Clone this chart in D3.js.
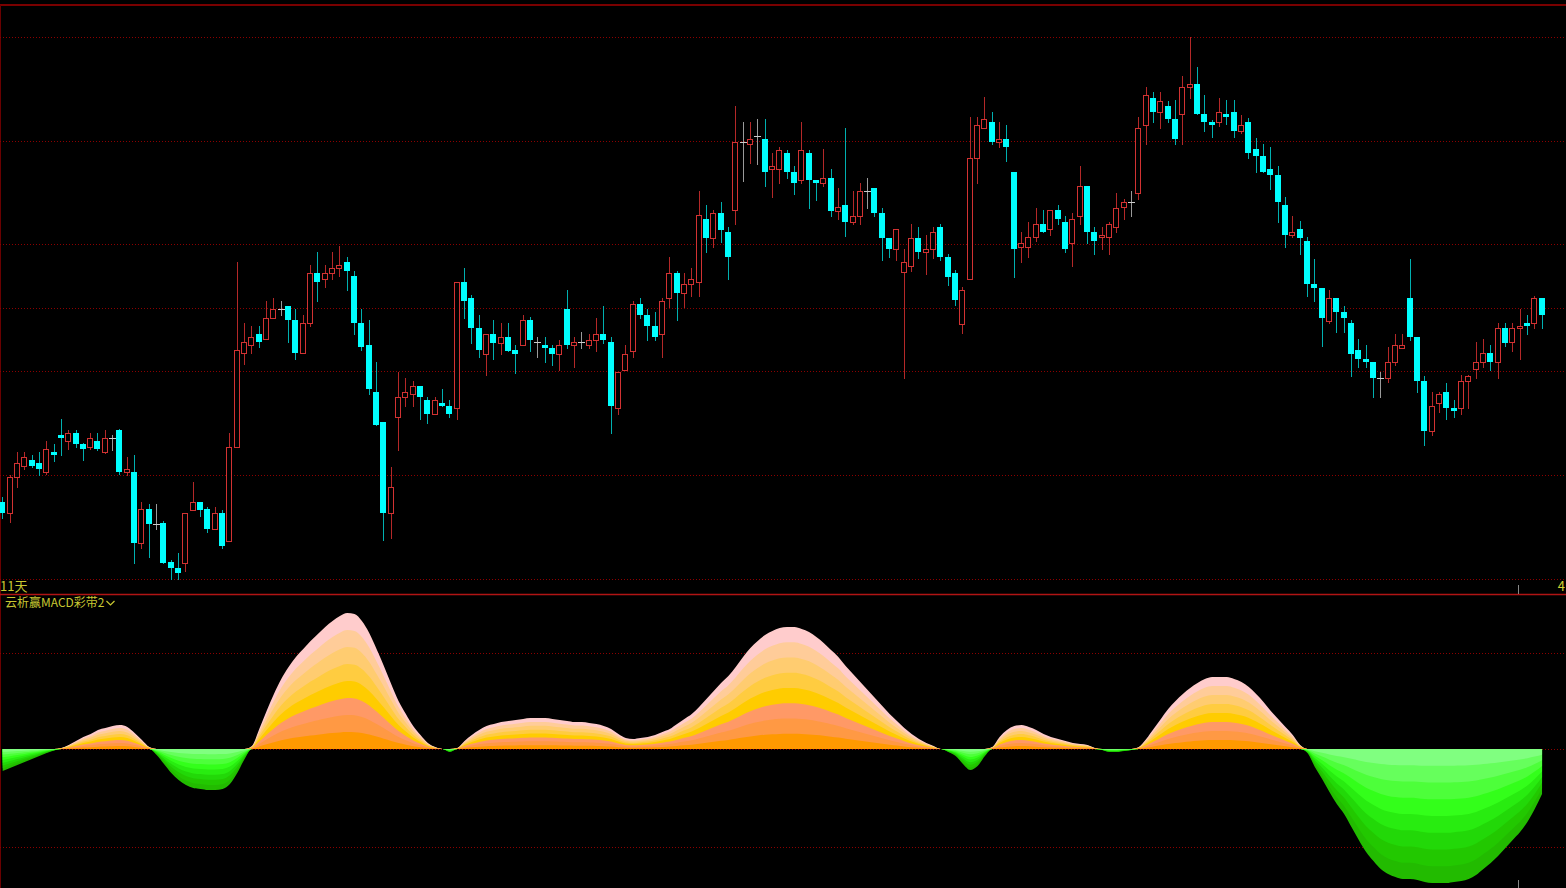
<!DOCTYPE html>
<html>
<head>
<meta charset="utf-8">
<script src="https://cdn.jsdelivr.net/npm/d3@7"></script>
<style>
  html, body { margin: 0; padding: 0; background: #000; overflow: hidden; }
  svg { display: block; }
</style>
</head>
<body>
<div id="chart"></div>
<script>
// daily bars, oldest first
var opens = [14.98,14.87,15.23,15.34,15.40,15.37,15.28,15.48,15.65,15.59,15.67,15.56,15.53,15.59,15.48,15.62,15.70,15.28,15.28,14.57,
  14.91,14.76,14.77,14.38,14.32,14.37,14.90,14.98,14.91,14.71,14.87,14.59,15.53,16.47,16.55,16.66,16.61,16.82,16.91,16.94,
  16.80,16.47,16.77,17.27,17.21,17.27,17.32,17.38,17.24,16.77,16.55,16.08,15.78,14.87,15.83,16.03,16.06,16.14,16.00,15.86,
  15.97,15.94,15.92,17.18,17.02,16.72,16.46,16.66,16.57,16.63,16.50,16.55,16.80,16.58,16.55,16.52,16.46,16.91,16.55,16.58,
  16.55,16.60,16.66,16.58,15.92,16.30,16.49,16.96,16.85,16.74,16.66,17.02,17.27,17.07,17.16,17.18,17.81,17.62,17.87,17.68,
  17.90,18.58,18.56,18.64,18.61,18.31,18.31,18.47,18.28,18.20,18.47,18.20,18.17,18.22,17.89,17.95,17.78,17.84,18.09,18.12,
  17.87,17.62,17.51,17.28,17.34,17.62,17.48,17.51,17.73,17.43,17.27,16.76,17.21,18.42,18.72,18.78,18.58,18.61,18.28,17.53,
  17.53,17.63,17.76,17.71,17.90,17.78,17.57,17.84,18.14,17.68,17.63,17.63,17.73,17.93,17.98,18.07,18.75,19.02,18.88,18.94,
  18.81,18.86,19.13,19.16,18.86,18.78,18.78,18.86,18.88,18.69,18.78,18.51,18.44,18.31,18.25,17.95,17.65,17.71,17.59,17.16,
  17.12,16.79,17.02,16.88,16.77,16.50,16.41,16.38,16.22,16.22,16.38,16.52,17.02,16.63,16.19,15.69,15.97,16.08,15.92,15.92,
  16.19,16.31,16.38,16.47,16.38,16.72,16.58,16.72,16.77,16.77,17.02];

var closes = [14.87,15.23,15.37,15.43,15.34,15.31,15.51,15.45,15.62,15.67,15.56,15.51,15.62,15.51,15.62,15.62,15.28,15.31,14.57,14.91,
  14.76,14.76,14.37,14.32,14.27,14.87,14.98,14.90,14.71,14.87,14.54,15.53,16.50,16.58,16.63,16.58,16.82,16.91,16.91,16.80,
  16.47,16.77,17.27,17.18,17.27,17.32,17.35,17.29,16.77,16.53,16.11,15.75,14.87,15.13,16.03,16.08,16.14,16.03,15.86,16.00,
  15.94,15.86,17.18,16.99,16.72,16.50,16.66,16.57,16.63,16.49,16.46,16.80,16.60,16.58,16.52,16.46,16.55,16.55,16.58,16.58,
  16.60,16.66,16.60,15.94,16.28,16.46,16.96,16.85,16.74,16.63,16.99,17.27,17.07,17.16,17.21,17.85,17.62,17.87,17.70,17.43,
  18.58,18.58,18.61,18.64,18.28,18.34,18.50,18.28,18.17,18.50,18.20,18.17,18.22,17.89,17.93,17.78,17.84,18.09,18.09,17.87,
  17.62,17.51,17.71,17.38,17.62,17.48,17.51,17.68,17.43,17.23,17.00,17.10,18.42,18.75,18.81,18.58,18.61,18.53,17.51,17.57,
  17.63,17.76,17.68,17.90,17.81,17.51,17.81,18.14,17.68,17.59,17.65,17.76,17.92,17.98,17.98,18.72,19.05,18.88,18.99,18.81,
  18.61,19.13,19.16,18.86,18.78,18.75,18.88,18.83,18.69,18.75,18.47,18.44,18.28,18.25,17.98,17.65,17.68,17.62,17.16,17.12,
  16.82,17.02,16.88,16.82,16.46,16.41,16.38,16.22,16.22,16.38,16.55,16.55,16.63,16.19,15.69,15.94,16.06,15.92,15.89,16.19,
  16.24,16.38,16.47,16.38,16.72,16.57,16.72,16.74,16.74,17.02,16.85];

var highs = [15.03,15.25,15.48,15.48,15.45,15.48,15.59,15.56,15.81,15.70,15.70,15.57,15.67,15.67,15.70,15.65,15.71,15.43,15.45,14.98,
  14.96,14.96,14.79,14.40,14.47,14.87,15.18,14.98,14.93,14.93,14.90,15.67,17.38,16.77,16.74,16.74,16.99,17.02,16.99,16.94,
  16.91,16.85,17.35,17.48,17.35,17.48,17.54,17.43,17.29,16.91,16.80,16.38,15.78,15.33,16.28,16.22,16.19,16.14,16.03,16.03,
  16.11,16.00,17.18,17.32,17.05,16.85,16.66,16.80,16.77,16.77,16.55,16.85,16.83,16.63,16.63,16.55,16.60,17.10,16.63,16.68,
  16.66,16.82,16.94,16.63,16.28,16.55,16.99,17.02,16.91,16.88,17.02,17.43,17.29,17.27,17.32,18.09,17.95,17.90,17.98,17.73,
  18.94,18.78,18.78,18.81,18.81,18.47,18.53,18.50,18.34,18.78,18.50,18.20,18.51,18.31,18.12,18.72,18.09,18.17,18.22,18.12,
  17.92,17.62,17.71,17.51,17.76,17.73,17.65,17.73,17.76,17.46,17.30,17.13,18.83,18.83,19.03,18.88,18.78,18.75,18.28,17.68,
  17.78,17.92,17.90,17.90,17.95,17.84,17.87,18.34,18.14,17.73,17.73,17.78,18.07,18.01,18.09,18.83,19.13,19.08,19.08,18.99,
  19.00,19.24,19.63,19.33,19.05,18.80,19.02,19.00,19.00,18.85,18.82,18.62,18.56,18.53,18.34,18.03,17.84,17.79,17.63,17.41,
  17.12,17.10,17.02,16.94,16.80,16.61,16.55,16.38,16.28,16.53,16.66,16.66,17.41,16.63,16.24,16.08,16.08,16.17,16.00,16.25,
  16.25,16.58,16.61,16.55,16.77,16.77,16.77,16.91,16.85,17.04,17.02];

var lows = [14.82,14.78,15.13,15.31,15.33,15.25,15.26,15.39,15.45,15.51,15.53,15.40,15.51,15.50,15.47,15.50,15.26,15.25,14.37,14.52,
  14.43,14.71,14.37,14.21,14.21,14.29,14.90,14.84,14.68,14.71,14.52,14.59,15.53,16.36,16.47,16.53,16.61,16.82,16.85,16.58,
  16.41,16.47,16.74,16.99,17.13,17.21,17.24,17.10,16.66,16.50,16.06,15.75,14.60,14.62,15.50,15.94,15.94,15.81,15.77,15.86,
  15.94,15.83,15.81,16.82,16.57,16.43,16.25,16.41,16.46,16.49,16.27,16.55,16.49,16.43,16.38,16.35,16.30,16.52,16.33,16.52,
  16.52,16.49,16.57,15.67,15.86,16.30,16.43,16.82,16.60,16.60,16.43,16.93,16.80,16.93,17.04,17.04,17.48,17.53,17.58,17.21,
  17.76,18.19,18.37,18.36,18.14,18.03,18.17,18.22,18.06,18.17,17.92,18.00,18.14,17.84,17.81,17.64,17.76,17.76,17.92,17.84,
  17.40,17.43,17.40,16.22,17.29,17.42,17.26,17.42,17.40,17.15,16.95,16.67,17.21,18.17,18.72,18.56,18.53,18.39,17.23,17.38,
  17.43,17.59,17.68,17.65,17.76,17.48,17.34,17.76,17.57,17.46,17.51,17.46,17.68,17.81,17.84,18.01,18.56,18.78,18.72,18.78,
  18.56,18.56,19.02,18.86,18.69,18.63,18.74,18.76,18.63,18.67,18.42,18.28,18.28,18.11,17.78,17.53,17.63,17.46,17.04,16.99,
  16.54,16.77,16.68,16.68,16.24,16.33,16.33,16.03,16.03,16.18,16.35,16.52,16.60,16.08,15.55,15.65,15.88,15.81,15.83,15.86,
  15.92,16.22,16.33,16.30,16.22,16.54,16.49,16.41,16.66,16.72,16.72];

// outer value of the MACD colour band, one per bar
var macdValues = [-0.022,-0.019,-0.016,-0.013,-0.010,-0.007,-0.004,-0.0015,0.001,0.004,0.008,0.012,0.015,0.019,0.021,0.023,0.024,0.022,0.016,0.009,
  0.002,-0.006,-0.015,-0.024,-0.031,-0.036,-0.039,-0.040,-0.041,-0.041,-0.040,-0.035,-0.024,-0.010,0.003,0.020,0.038,0.055,0.070,0.082,
  0.092,0.100,0.108,0.115,0.122,0.128,0.133,0.136,0.135,0.128,0.116,0.100,0.083,0.065,0.048,0.035,0.023,0.014,0.006,0.002,
  0.000,-0.003,0.001,0.008,0.014,0.019,0.023,0.025,0.027,0.028,0.029,0.030,0.031,0.031,0.031,0.030,0.029,0.028,0.027,0.027,
  0.026,0.025,0.023,0.020,0.015,0.011,0.010,0.011,0.012,0.014,0.017,0.020,0.025,0.030,0.035,0.042,0.050,0.058,0.066,0.073,
  0.082,0.092,0.101,0.108,0.114,0.118,0.121,0.122,0.122,0.120,0.117,0.112,0.106,0.099,0.092,0.083,0.075,0.067,0.059,0.051,
  0.043,0.035,0.028,0.021,0.015,0.010,0.006,0.003,0.000,-0.003,-0.007,-0.015,-0.021,-0.017,-0.007,0.002,0.012,0.019,0.023,0.024,
  0.022,0.019,0.015,0.012,0.010,0.008,0.006,0.005,0.004,0.001,-0.001,-0.003,-0.003,-0.002,-0.001,0.002,0.010,0.020,0.030,0.040,
  0.048,0.055,0.061,0.066,0.070,0.072,0.072,0.072,0.070,0.067,0.062,0.055,0.047,0.038,0.030,0.022,0.014,0.004,-0.004,-0.018,
  -0.030,-0.043,-0.055,-0.065,-0.078,-0.091,-0.103,-0.112,-0.120,-0.125,-0.128,-0.130,-0.130,-0.131,-0.133,-0.134,-0.134,-0.134,-0.133,-0.132,
  -0.130,-0.126,-0.120,-0.114,-0.107,-0.099,-0.091,-0.083,-0.073,-0.060,-0.045];

var priceGrid = [19.63, 18.59, 17.56, 16.92, 16.29, 15.25, 14.21];
var macdGrid = [0.096, 0, -0.098];

// band colours, outermost layer first
var upColors = ["#ffcccc", "#ffcc99", "#ffcc70", "#ffcc40", "#ffcc00", "#ff9966", "#ff9944", "#ff9900"];
var downColors = ["#22bb00", "#22c800", "#22d808", "#28ec10", "#33ff1a", "#4dff3a", "#66ff5c", "#80ff80"];

var periodLabel = "11天";
var indicatorName = "云析赢MACD彩带2";
var rightLabel = "4";

var width = 1566, height = 888;

var svg = d3.select("#chart")
  .append("svg")
  .attr("width", width)
  .attr("height", height)
  .style("background", "#000");

var data = opens.map(function(o, i) {
  return {i: i, open: o, close: closes[i], high: highs[i], low: lows[i], macd: macdValues[i]};
});

var x = d3.scaleBand()
  .domain(data.map(function(d) { return d.i; }))
  .range([-0.96, 1545.7]);

function cx(i) { return Math.floor(x(i) + x.step() / 2); }

var y = d3.scaleLinear().domain([14.21, 19.63]).range([579, 37]);
var yM = d3.scaleLinear().domain([-0.098, 0.096]).range([847, 653]);

function py(v) { return Math.round(y(v)); }

// frame lines
svg.append("rect").attr("x", 0).attr("y", 4).attr("width", width).attr("height", 2).attr("fill", "#7a0000");
svg.append("line").attr("x1", 0.5).attr("x2", 0.5).attr("y1", 5).attr("y2", height)
  .attr("stroke", "#6a0000");

// dotted grid, price panel
svg.append("g")
  .selectAll("line")
  .data(priceGrid)
  .join("line")
    .attr("x1", 0).attr("x2", width)
    .attr("y1", function(d) { return py(d) + 0.5; })
    .attr("y2", function(d) { return py(d) + 0.5; })
    .attr("stroke", "#8c0000")
    .attr("stroke-dasharray", "1,2");

// dotted grid, indicator panel
svg.append("g")
  .selectAll("line")
  .data(macdGrid)
  .join("line")
    .attr("x1", 0).attr("x2", width)
    .attr("y1", function(d) { return Math.round(yM(d)) + 0.5; })
    .attr("y2", function(d) { return Math.round(yM(d)) + 0.5; })
    .attr("stroke", "#8c0000")
    .attr("stroke-dasharray", "1,2");

// MACD colour band: 8 nested layers, largest first
var bands = svg.append("g").attr("class", "bands");
d3.range(8, 0, -1).forEach(function(k) {
  var f = k / 8;
  var up = d3.area()
    .x(function(d) { return x(d.i) + x.step() / 2; })
    .y0(yM(0))
    .y1(function(d) { return yM(Math.max(d.macd, 0) * f); })
    .curve(d3.curveMonotoneX);
  var down = d3.area()
    .x(function(d) { return x(d.i) + x.step() / 2; })
    .y0(yM(0))
    .y1(function(d) { return yM(Math.min(d.macd, 0) * f); })
    .curve(d3.curveMonotoneX);
  bands.append("path").datum(data).attr("d", up).attr("fill", upColors[8 - k]);
  bands.append("path").datum(data).attr("d", down).attr("fill", downColors[8 - k]);
});

// candles
var candles = svg.append("g")
  .attr("class", "candles")
  .attr("shape-rendering", "crispEdges")
  .selectAll("g")
  .data(data)
  .join("g");

function kind(d) {
  if (d.close > d.open) return "up";
  if (d.close < d.open) return "down";
  return "flat";
}
var wickColor = {up: "#b42828", down: "#00b0b0", flat: "#9a9a9a"};

candles.append("line")
  .attr("x1", function(d) { return cx(d.i) + 0.5; })
  .attr("x2", function(d) { return cx(d.i) + 0.5; })
  .attr("y1", function(d) { return py(d.high); })
  .attr("y2", function(d) { return py(d.low) + 1; })
  .attr("stroke", function(d) { return wickColor[kind(d)]; });

candles.filter(function(d) { return kind(d) === "up"; })
  .append("rect")
    .attr("x", function(d) { return cx(d.i) - 2.5; })
    .attr("y", function(d) { return py(d.close) + 0.5; })
    .attr("width", 5)
    .attr("height", function(d) { return Math.max(1, py(d.open) - py(d.close)); })
    .attr("fill", "#000")
    .attr("stroke", "#d23232");

candles.filter(function(d) { return kind(d) === "down"; })
  .append("rect")
    .attr("x", function(d) { return cx(d.i) - 3; })
    .attr("y", function(d) { return py(d.open); })
    .attr("width", 6)
    .attr("height", function(d) { return Math.max(2, py(d.close) - py(d.open)); })
    .attr("fill", "#00ffff");

candles.filter(function(d) { return kind(d) === "flat"; })
  .append("line")
    .attr("x1", function(d) { return cx(d.i) - 3; })
    .attr("x2", function(d) { return cx(d.i) + 4; })
    .attr("y1", function(d) { return py(d.open) + 0.5; })
    .attr("y2", function(d) { return py(d.open) + 0.5; })
    .attr("stroke", "#cccccc");

// panel separator
svg.append("line").attr("x1", 0).attr("x2", width).attr("y1", 594.5).attr("y2", 594.5)
  .attr("stroke", "#b01414").attr("stroke-width", 1.5);

// cursor ticks
svg.append("line").attr("x1", 1518.5).attr("x2", 1518.5).attr("y1", 585).attr("y2", 594)
  .attr("stroke", "#888");
svg.append("line").attr("x1", 1518.5).attr("x2", 1518.5).attr("y1", 880).attr("y2", 888)
  .attr("stroke", "#888");

// labels
var font = "'Noto Sans CJK SC', 'Noto Sans', sans-serif";
svg.append("text").attr("x", 0).attr("y", 591)
  .attr("fill", "#c8c832").style("font-family", font).style("font-size", "13px")
  .text(periodLabel);
svg.append("text").attr("x", 1565).attr("y", 591).attr("text-anchor", "end")
  .attr("fill", "#d2d232").style("font-family", font).style("font-size", "13px")
  .text(rightLabel);
var title = svg.append("text").attr("x", 5).attr("y", 607)
  .attr("fill", "#c8c832").style("font-family", font).style("font-size", "12px")
  .text(indicatorName);
var tw = title.node().getComputedTextLength();
svg.append("path")
  .attr("d", "M" + (5 + tw + 2) + ",601 l4,4 l4,-4")
  .attr("fill", "none").attr("stroke", "#c8c832").attr("stroke-width", 1.2);
</script>
</body>
</html>
